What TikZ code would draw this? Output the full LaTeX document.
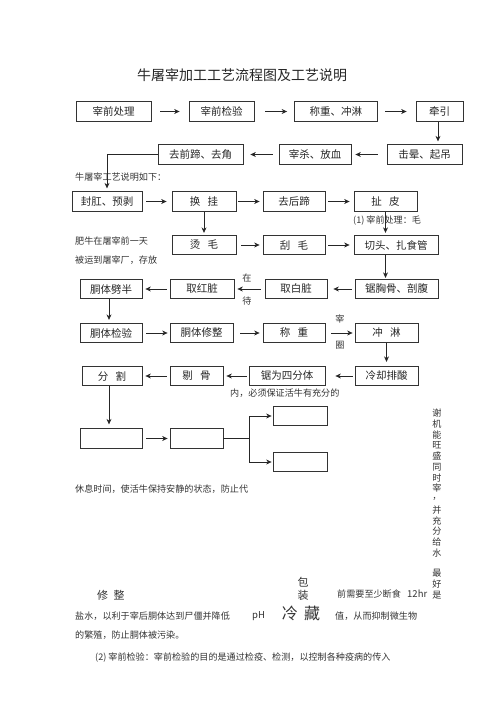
\documentclass[tikz,border=0pt]{standalone}
\usepackage{fontspec}
\setmainfont{Noto Sans CJK SC}
\usetikzlibrary{arrows.meta}
\begin{document}
\begin{tikzpicture}[x=1pt,y=-1pt,
  box/.style={draw=black!80, line width=0.75pt, inner sep=0pt, minimum height=19.5pt,
    font=\fontsize{10.5}{12}\selectfont, text=black!85},
  arr/.style={draw=black!85, line width=0.75pt, -{Stealth[length=5.5pt,width=5pt]}},
  ln/.style={draw=black!85, line width=0.75pt},
  lbl/.style={font=\fontsize{9.1}{10}\selectfont, text=black!80, inner sep=0pt, anchor=west},
  clbl/.style={font=\fontsize{9.1}{10}\selectfont, text=black!80, inner sep=0pt},
]
\useasboundingbox (0,0) rectangle (500,708);
\newcommand{\gp}{\hspace{0.7em}}

% title
\node[font=\fontsize{14}{16}\selectfont, text=black!85] (title) at (242,75) {牛屠宰加工工艺流程图及工艺说明};

% row 1
\node[box, minimum width=75pt]   (a1) at (113.5,111.5) {宰前处理};
\node[box, minimum width=65pt]   (a2) at (221.5,111.5) {宰前检验};
\node[box, minimum width=82.5pt] (a3) at (335.75,111.5) {称重、冲淋};
\node[box, minimum width=47pt]   (a4) at (439.5,111.5) {牵引};
% row 2
\node[box, minimum width=85pt] (b1) at (200.5,154.5) {去前蹄、去角};
\node[box, minimum width=72pt] (b2) at (315,154.5) {宰杀、放血};
\node[box, minimum width=75pt] (b3) at (424.5,154.5) {击晕、起吊};
% row 3
\node[box, minimum width=70pt] (c1) at (107,201.5) {封肛、预剥};
\node[box, minimum width=64pt] (c2) at (204,201.5) {换\gp 挂};
\node[box, minimum width=62pt] (c3) at (294,201.5) {去后蹄};
\node[box, minimum width=63pt] (c4) at (385.5,201.5) {扯\gp 皮};
% row 4
\node[box, minimum width=64pt] (d1) at (204,245) {烫\gp 毛};
\node[box, minimum width=62pt] (d2) at (294,245) {刮\gp 毛};
\node[box, minimum width=84pt] (d3) at (396,245) {切头、扎食管};
% row 5
\node[box, minimum width=62pt] (e1) at (111,289) {胴体劈半};
\node[box, minimum width=64pt] (e2) at (202,289) {取红脏};
\node[box, minimum width=62pt] (e3) at (296,289) {取白脏};
\node[box, minimum width=83pt] (e4) at (396.5,289) {锯胸骨、剖腹};
% row 6
\node[box, minimum width=62pt] (f1) at (111,333) {胴体检验};
\node[box, minimum width=63pt] (f2) at (201.5,333) {胴体修整};
\node[box, minimum width=62pt] (f3) at (294,333) {称\gp 重};
\node[box, minimum width=63pt] (f4) at (386.5,333) {冲\gp 淋};
% row 7
\node[box, minimum width=60pt] (g1) at (112,376) {分\gp 割};
\node[box, minimum width=53pt] (g2) at (196.5,376) {剔\gp 骨};
\node[box, minimum width=76pt] (g3) at (287,376) {锯为四分体};
\node[box, minimum width=63pt] (g4) at (386.5,376) {冷却排酸};
% row 8
\node[box, minimum width=62pt] (h1) at (111,438.5) {};
\node[box, minimum width=53pt] (h2) at (196.5,438.5) {};
\node[box, minimum width=54pt] (h3) at (300,416) {};
\node[box, minimum width=54pt] (h4) at (300,462) {};

% texts
\node[lbl] (n1) at (75,177) {牛屠宰工艺说明如下：};
\node[lbl] (n2) at (353,221) {(1) 宰前处理：毛};
\node[lbl] (n3) at (75,241) {肥牛在屠宰前一天};
\node[lbl] (n4) at (75,260) {被运到屠宰厂，存放};
\node[clbl] (n5) at (247,278) {在};
\node[clbl] (n6) at (247,301) {待};
\node[clbl] (n7) at (340,319) {宰};
\node[clbl] (n8) at (340,345) {圈};
\node[lbl] (n9) at (230,393) {内，必须保证活牛有充分的};
\node[lbl] (n10) at (75,489) {休息时间，使活牛保持安静的状态，防止代};

% arrows row 1
\draw[arr, shorten <=9pt, shorten >=9pt] (a1.east) -- (a2.west);
\draw[arr, shorten <=11pt, shorten >=7pt] (a2.east) -- (a3.west);
\draw[arr, shorten <=8pt, shorten >=9pt] (a3.east) -- (a4.west);
\draw[arr, shorten >=3pt] (a4.south -| 438,0) -- (438,0 |- b3.north);
% row 2
\draw[arr, shorten <=9pt, shorten >=4pt] (b3.west) -- (b2.east);
\draw[arr, shorten <=6pt, shorten >=7pt] (b2.west) -- (b1.east);
\draw[arr, shorten >=3pt] (b1.west) -| (c1.north);
% row 3
\draw[arr, shorten <=4pt, shorten >=5pt] (c1.east) -- (c2.west);
\draw[arr, shorten <=2pt, shorten >=3pt] (c2.east) -- (c3.west);
\draw[arr, shorten <=3pt, shorten >=4pt] (c3.east) -- (c4.west);
\draw[arr, shorten >=2pt] (c2.south) -- (d1.north);
\draw[arr, shorten >=2pt] (c4.south) -- (c4.south |- d3.north);
% row 4
\draw[arr, shorten <=5pt, shorten >=3pt] (d1.east) -- (d2.west);
\draw[arr, shorten <=3pt, shorten >=4pt] (d2.east) -- (d3.west);
\draw[arr, shorten >=1pt] (c4.south |- d3.south) -- (c4.south |- e4.north);
% row 5
\draw[arr, shorten <=3pt, shorten >=6pt] (e4.west) -- (e3.east);
\draw[arr, shorten <=4pt, shorten >=3pt] (e3.west) -- (e2.east);
\draw[arr, shorten <=3pt, shorten >=3pt] (e2.west) -- (e1.east);
\draw[arr, shorten >=3pt] (e1.south -| 109,0) -- (109,0 |- f1.north);
% row 6
\draw[arr, shorten <=4pt, shorten >=2pt] (f1.east) -- (f2.west);
\draw[arr, shorten <=7pt, shorten >=3pt] (f2.east) -- (f3.west);
\draw[arr, shorten <=6pt, shorten >=2pt] (f3.east) -- (f4.west);
\draw[arr, shorten >=4pt] (f4.south) -- (g4.north);
% row 7
\draw[arr, shorten <=2pt, shorten >=10pt] (g4.west) -- (g3.east);
\draw[arr, shorten <=2pt, shorten >=3pt] (g3.west) -- (g2.east);
\draw[arr, shorten <=3pt, shorten >=3pt] (g2.west) -- (g1.east);
\draw[arr, shorten >=4pt] (g1.south -| 109,0) -- (109,0 |- h1.north);
% row 8
\draw[arr, shorten <=4pt, shorten >=2pt] (h1.east) -- (h2.west);
\coordinate (br) at (249,438.5);
\draw[ln] (h2.east) -- (br);
\draw[arr, shorten >=1pt] (br) |- (h3.west);
\draw[arr, shorten >=1pt] (br) |- (h4.west);

\foreach \c [count=\i] in {谢,机,能,旺,盛,同,时,宰,，,并,充,分,给,水}
  \node[clbl] (v\i) at (437,{413+(\i-1)*10.77}) {\c};
\node[clbl] (v15) at (437,573) {最};
\node[clbl] (v16) at (437,584) {好};
\node[clbl] (v17) at (437,595) {是};

\node[lbl, font=\fontsize{11}{12}\selectfont] (n11) at (97,595) {修\hspace{0.5em}整};
\node[clbl, font=\fontsize{11}{12}\selectfont] (n12) at (303,582) {包};
\node[clbl, font=\fontsize{11}{12}\selectfont] (n13) at (303,595) {装};
\node[lbl] (n14) at (337,594) {前需要至少断食};
\node[lbl, font=\fontsize{9.5}{11}\selectfont] (n15) at (407,594) {12hr};
\node[lbl] (n16) at (75,616) {盐水，以利于宰后胴体达到尸僵并降低};
\node[lbl, font=\fontsize{9.5}{11}\selectfont] (n17) at (252,616) {pH};
\node[clbl, font=\fontsize{16}{18}\selectfont] (n18) at (301,613) {冷\hspace{0.4em}藏};
\node[lbl] (n19) at (335,616) {值，从而抑制微生物};
\node[lbl] (n20) at (75,635) {的繁殖，防止胴体被污染。};
\node[lbl] (n21) at (95,658) {(2) 宰前检验：宰前检验的目的是通过检疫、检测，以控制各种疫病的传入};
\end{tikzpicture}
\end{document}
